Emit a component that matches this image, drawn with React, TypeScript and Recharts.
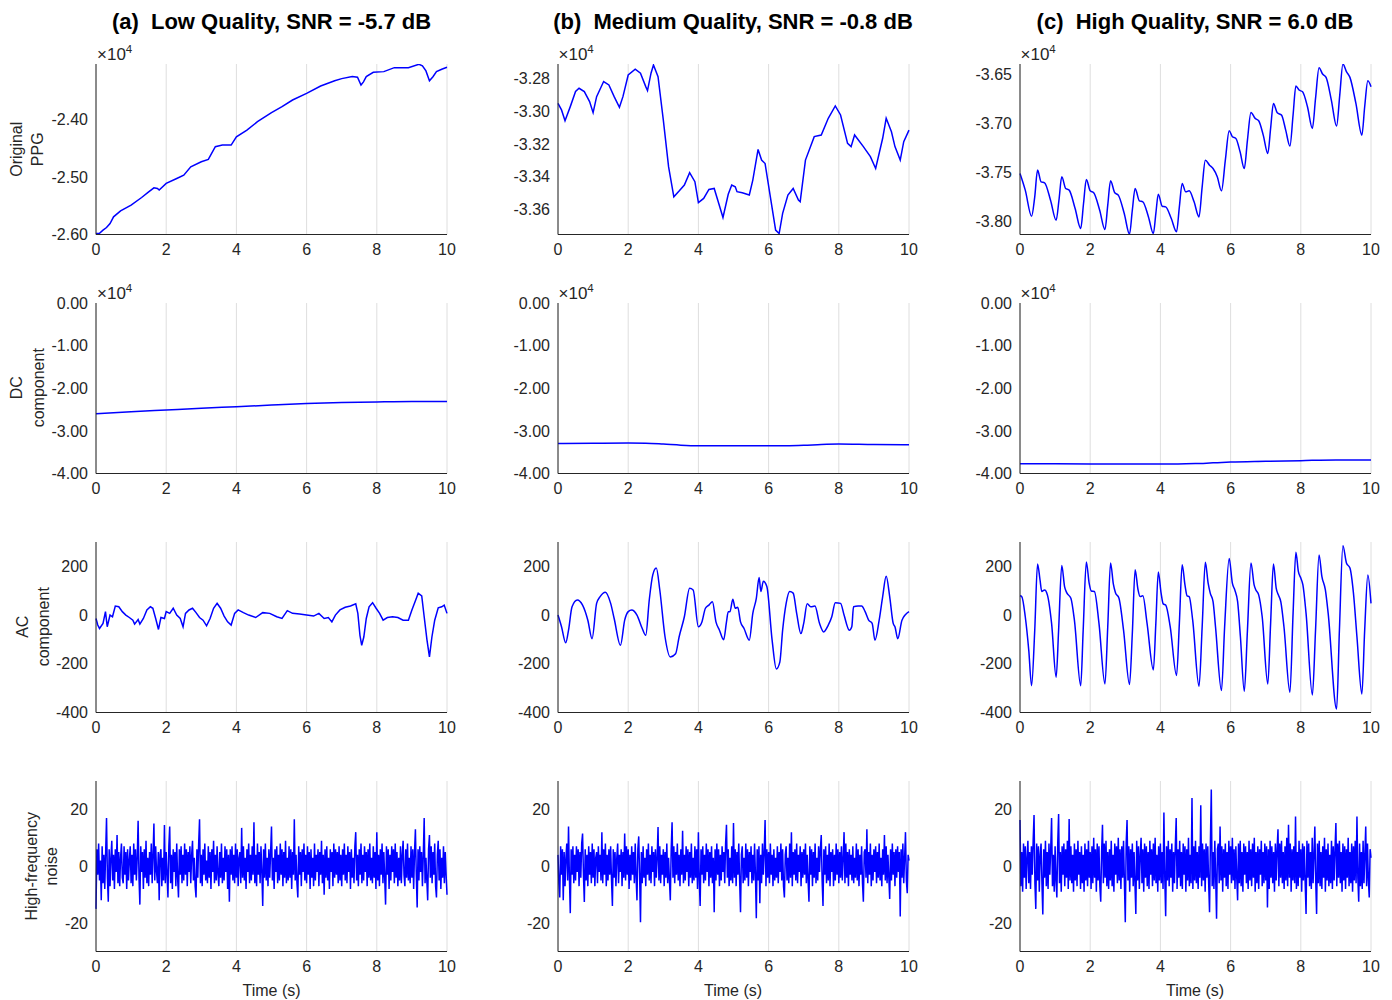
import { LineChart, Line, XAxis, YAxis, CartesianGrid } from "recharts"

const FONT = "'Liberation Sans', Arial, Helvetica, sans-serif"
const INK = "#262626"
const BLUE = "#0000ff"

const xTicks = [0, 2, 4, 6, 8, 10]

const titles = [
  "(a)  Low Quality, SNR = -5.7 dB",
  "(b)  Medium Quality, SNR = -0.8 dB",
  "(c)  High Quality, SNR = 6.0 dB",
]

// ---- row 1: original PPG ----
const ppgLowT = [
  0, 0.1, 0.2, 0.3, 0.4, 0.5, 0.7, 1.0, 1.3, 1.5,
  1.65, 1.75, 1.8, 2.0, 2.3, 2.5, 2.7, 3.0, 3.2, 3.4,
  3.6, 3.85, 4.0, 4.3, 4.6, 5.0, 5.3, 5.6, 6.0, 6.4,
  6.8, 7.0, 7.3, 7.45, 7.55, 7.62, 7.7, 7.9, 8.2, 8.5,
  8.9, 9.2, 9.3, 9.4, 9.5, 9.6, 9.7, 9.85, 10,
]
const ppgLowV = [
  -25985, -25980, -25926, -25880, -25810, -25693, -25588, -25489, -25356, -25257,
  -25187, -25200, -25227, -25110, -25024, -24966, -24820, -24733, -24692, -24471,
  -24442, -24442, -24297, -24180, -24035, -23878, -23773, -23657, -23540, -23412,
  -23320, -23284, -23249, -23261, -23395, -23340, -23249, -23174, -23162, -23093,
  -23093, -23034, -23060, -23150, -23320, -23250, -23162, -23120, -23087,
]

const ppgMedT = [
  0, 0.1, 0.2, 0.35, 0.5, 0.6, 0.75, 0.9, 1.0, 1.1,
  1.3, 1.45, 1.6, 1.75, 1.85, 2.0, 2.2, 2.35, 2.5, 2.55,
  2.65, 2.72, 2.85, 3.0, 3.15, 3.3, 3.45, 3.6, 3.75, 3.9,
  4.0, 4.15, 4.3, 4.45, 4.55, 4.7, 4.85, 4.95, 5.05, 5.1,
  5.25, 5.45, 5.55, 5.7, 5.8, 5.9, 6.05, 6.2, 6.3, 6.4,
  6.55, 6.7, 6.85, 6.9, 7.05, 7.3, 7.5, 7.7, 7.9, 8.05,
  8.25, 8.35, 8.45, 8.7, 8.9, 9.05, 9.25, 9.35, 9.5, 9.6,
  9.75, 9.85, 10,
]
const ppgMedV = [
  -32953, -32993, -33059, -32973, -32881, -32861, -32881, -32942, -33010, -32912,
  -32820, -32841, -32912, -32977, -32912, -32780, -32745, -32769, -32851, -32875,
  -32769, -32719, -32790, -33054, -33339, -33523, -33488, -33451, -33376, -33431,
  -33559, -33533, -33478, -33472, -33543, -33649, -33508, -33451, -33462, -33492,
  -33498, -33512, -33421, -33234, -33299, -33320, -33523, -33726, -33747, -33624,
  -33512, -33472, -33543, -33553, -33299, -33156, -33146, -33044, -32969, -33024,
  -33197, -33217, -33146, -33217, -33278, -33350, -33166, -33044, -33126, -33217,
  -33299, -33187, -33116,
]

const ppgHighT = [
  0, 0.15, 0.33, 0.42, 0.5, 0.6, 0.7, 0.87, 1.03, 1.11,
  1.19, 1.3, 1.4, 1.57, 1.73, 1.81, 1.89, 2.0, 2.1, 2.27,
  2.42, 2.5, 2.58, 2.7, 2.8, 2.97, 3.12, 3.2, 3.28, 3.4,
  3.5, 3.66, 3.8, 3.87, 3.94, 4.05, 4.15, 4.31, 4.46, 4.54,
  4.62, 4.72, 4.82, 4.96, 5.1, 5.19, 5.28, 5.4, 5.5, 5.62,
  5.74, 5.85, 5.96, 6.05, 6.15, 6.27, 6.39, 6.48, 6.58, 6.7,
  6.8, 6.93, 7.06, 7.14, 7.22, 7.33, 7.45, 7.57, 7.69, 7.78,
  7.86, 7.95, 8.05, 8.19, 8.33, 8.42, 8.52, 8.62, 8.72, 8.87,
  9.02, 9.11, 9.2, 9.3, 9.4, 9.57, 9.74, 9.82, 9.91, 10,
]
const ppgHighV = [
  -37511, -37681, -37946, -37749, -37477, -37596, -37606, -37783, -37987, -37783,
  -37545, -37664, -37681, -37868, -38071, -37817, -37572, -37688, -37708, -37885,
  -38082, -37834, -37586, -37708, -37732, -37919, -38129, -37885, -37664, -37790,
  -37800, -37953, -38122, -37919, -37722, -37844, -37851, -37970, -38105, -37851,
  -37613, -37698, -37688, -37800, -37953, -37647, -37376, -37427, -37461, -37545,
  -37688, -37376, -37077, -37138, -37155, -37291, -37461, -37172, -36890, -36951,
  -36975, -37121, -37308, -37053, -36799, -36894, -36917, -37070, -37233, -36917,
  -36622, -36663, -36680, -36833, -37053, -36748, -36436, -36500, -36534, -36765,
  -37029, -36714, -36398, -36476, -36534, -36799, -37121, -36833, -36568, -36629,
]

// ---- row 2: DC component ----
const dcLowT = [0, 1, 2, 3, 4, 5, 6, 7, 8, 9, 10]
const dcLowV = [-26000, -25500, -25100, -24700, -24330, -23950, -23600, -23350, -23200, -23100, -23120]
const dcMedT = [0, 1, 2, 2.5, 3, 3.5, 4, 5, 6, 6.5, 7, 7.5, 8, 9, 10]
const dcMedV = [-32950, -32900, -32860, -32900, -33100, -33350, -33480, -33500, -33500, -33500, -33400, -33200, -33100, -33200, -33230]
const dcHighT = [0, 1, 2, 3, 4, 4.5, 5, 5.5, 6, 7, 8, 9, 10]
const dcHighV = [-37700, -37740, -37770, -37790, -37800, -37780, -37680, -37500, -37330, -37150, -36980, -36820, -36860]

// ---- row 3: AC component ----
const acLowT = [
  0, 0.05, 0.1, 0.2, 0.27, 0.32, 0.4, 0.47, 0.55, 0.65,
  0.75, 0.85, 0.95, 1.05, 1.1, 1.2, 1.25, 1.35, 1.45, 1.55,
  1.62, 1.7, 1.78, 1.85, 1.95, 2.0, 2.1, 2.2, 2.3, 2.4,
  2.48, 2.55, 2.65, 2.75, 2.85, 2.95, 3.05, 3.15, 3.25, 3.35,
  3.45, 3.55, 3.65, 3.75, 3.85, 3.95, 4.05, 4.2, 4.35, 4.55,
  4.75, 4.95, 5.15, 5.3, 5.45, 5.6, 5.8, 6.0, 6.2, 6.35,
  6.5, 6.62, 6.72, 6.82, 6.95, 7.1, 7.25, 7.4, 7.46, 7.52,
  7.57, 7.63, 7.7, 7.78, 7.88, 7.98, 8.08, 8.18, 8.3, 8.45,
  8.6, 8.75, 8.9, 9.0, 9.1, 9.18, 9.28, 9.35, 9.43, 9.5,
  9.57, 9.65, 9.75, 9.85, 9.92, 10,
]
const acLowV = [
  -14, -41, -55, -34, 14, -48, 0, -7, 37, 34,
  14, 0, -10, -21, -37, -18, -37, -14, 21, 34,
  28, -14, -59, -10, -14, 14, 7, 28, 0, -14,
  -48, 7, 21, 28, 10, -10, -21, -44, -14, 28,
  48, 28, -4, -28, -41, 7, 21, 10, 0, -10,
  10, 7, -7, -14, 18, 7, 4, 0, -4, 7,
  -14, -10, -28, 0, 21, 32, 37, 46, 7, -83,
  -124, -90, -14, 34, 51, 28, 7, -21, -10, -7,
  -10, -21, -21, 21, 59, 90, 79, -7, -103, -172,
  -90, -21, 30, 34, 41, 7,
]

const acMedT = [
  0, 0.1, 0.22, 0.3, 0.4, 0.55, 0.7, 0.85, 0.97, 1.1,
  1.2, 1.35, 1.5, 1.6, 1.78, 1.9, 2.0, 2.1, 2.25, 2.4,
  2.5, 2.6, 2.7, 2.8, 2.9, 3.05, 3.2, 3.35, 3.45, 3.6,
  3.75, 3.85, 4.0, 4.1, 4.2, 4.3, 4.4, 4.5, 4.6, 4.72,
  4.8, 4.85, 4.9, 4.98, 5.05, 5.12, 5.2, 5.3, 5.45, 5.55,
  5.65, 5.73, 5.78, 5.85, 5.95, 6.1, 6.22, 6.32, 6.4, 6.5,
  6.6, 6.7, 6.8, 6.92, 7.0, 7.1, 7.2, 7.32, 7.45, 7.57,
  7.7, 7.8, 7.9, 8.05, 8.15, 8.3, 8.37, 8.42, 8.55, 8.65,
  8.75, 8.85, 8.95, 9.03, 9.15, 9.25, 9.35, 9.45, 9.55, 9.6,
  9.68, 9.8, 10,
]
const acMedV = [
  0, -48, -114, -62, 34, 62, 41, -21, -97, 48,
  76, 94, 48, -14, -124, -21, 14, 21, 0, -55,
  -83, 62, 165, 193, 103, -90, -172, -159, -90, -7,
  110, 103, -48, -28, 28, 41, 55, -28, -62, -101,
  -28, 14, 14, 65, 28, 32, -28, -55, -103, 7,
  69, 154, 97, 139, 117, -103, -221, -193, -62, 48,
  97, 90, 7, -76, -34, 46, 34, 37, -34, -69,
  -41, -7, 51, 48, 0, -62, -48, 34, 37, 37,
  14, -21, -34, -103, -21, 76, 159, 76, -34, -48,
  -97, -21, 14,
]

const acHighT = [
  0, 0.05, 0.15, 0.25, 0.33, 0.42, 0.5, 0.57, 0.62, 0.7,
  0.78, 0.9, 1.03, 1.1, 1.19, 1.27, 1.33, 1.45, 1.55, 1.73,
  1.8, 1.89, 1.97, 2.03, 2.12, 2.25, 2.42, 2.5, 2.58, 2.66,
  2.72, 2.82, 2.95, 3.12, 3.2, 3.28, 3.36, 3.42, 3.5, 3.62,
  3.8, 3.87, 3.94, 4.02, 4.08, 4.15, 4.28, 4.46, 4.54, 4.62,
  4.7, 4.76, 4.82, 4.92, 5.1, 5.19, 5.28, 5.36, 5.42, 5.5,
  5.57, 5.74, 5.83, 5.96, 6.05, 6.12, 6.2, 6.28, 6.39, 6.48,
  6.58, 6.67, 6.72, 6.8, 6.9, 7.06, 7.14, 7.22, 7.3, 7.36,
  7.43, 7.52, 7.69, 7.78, 7.86, 7.93, 8.0, 8.06, 8.15, 8.33,
  8.42, 8.52, 8.6, 8.7, 8.78, 9.02, 9.1, 9.2, 9.3, 9.4,
  9.5, 9.6, 9.74, 9.82, 9.91, 10,
]
const acHighV = [
  79, 76, -7, -145, -290, -62, 210, 145, 97, 103,
  83, -34, -255, -62, 204, 117, 92, 69, -21, -290,
  -62, 218, 131, 99, 97, -34, -283, -48, 214, 127,
  92, 69, -62, -285, -76, 186, 106, 76, 79, -34,
  -225, -34, 177, 90, 46, 41, -48, -248, -34, 207,
  124, 79, 76, -21, -292, -48, 217, 131, 90, 55,
  -48, -310, -48, 232, 131, 103, 55, -90, -313, -62,
  214, 124, 103, 83, -7, -283, -34, 210, 110, 83,
  55, -48, -317, 7, 258, 179, 152, 124, 7, -328,
  -62, 247, 159, 103, 7, -386, -62, 285, 214, 193,
  90, -90, -324, -62, 165, 48,
]

// ---- row 4: high-frequency noise, sampled every 0.025 s ----
const noiseLow = [
  -15, 6, -3, 8, -5, 2, -12, 7, -6, 4, -8, 5, 17, -4, -12.5, 6, -7, 3, 9, -5,
  4, -8, 6, -2, 11, -6, 5, -7, 3, 8, -4, -6, 7, -3, 5, -8, 6, -5, 2, 7,
  -6, 4, -7, 8, -3, 6, -5, 3, 16, -4, -13.5, 7, -2, 5, -8, 6, -4, 9, -6, 3,
  -7, 5, -3, 8, -6, 4, 15, -5, 7, -2, -6, 5, -12, 4, 6, -7, 3, -5, 14.5, -6,
  5, -3, -11, 7, 14, -6, 4, -8, 6, -2, 5, -7, 8, -4, -11, 6, -3, 7, -6, 4,
  -5, 8, -3, 6, -7, 5, -2, 7, -6, 4, 9, -5, 3, -7, -11, 6, -4, 8, 16.5, -6,
  4, -7, 6, -3, 8, -5, 2, -6, 7, -4, 5, -8, 6, -2, 9, -6, 4, -5, 7, -3,
  -7, 5, -4, 8, -6, 3, -5, 7, -2, 6, -8, 4, -12.5, 6, -3, 7, -5, 4, -6, 8,
  -4, 6, -7, 3, 5, -6, 13.5, -4, 7, -5, 3, -8, 6, -2, 8, -6, 4, -5, 7, -3,
  15.5, -6, 4, -7, 8, -3, 5, -6, 7, -2, -14, 6, -4, 8, -5, 3, -7, 6, -4, 5,
  14, -5, 3, -8, 6, -2, 7, -6, 4, -5, 8, -3, 6, -7, 5, -4, 9, -6, 3, -5,
  7, -4, 6, -8, 5, -3, 16.5, -5, 4, -6, -11, 7, -3, 5, -7, 6, -2, 8, -5, 4,
  -6, 7, -3, 5, -8, 6, -4, 3, -7, 8, -5, 4, -2, 6, -7, 5, -3, 9, -6, 4,
  -10, 6, -4, 7, -5, 3, -8, 6, -2, 5, -7, 8, -4, 6, -3, 5, -6, 7, -5, 4,
  -7, 6, -3, 8, -5, 4, -6, 7, -2, 5, -8, 6, -4, 3, -6, 7, 12, -5, 4, -7,
  6, -3, 8, -6, 4, -5, 7, -2, 5, -7, 6, -4, 8, -5, 3, -6, 7, -4, 5, -8,
  12, -5, 4, -7, 6, -3, 8, -6, 5, -4, -13.5, 7, -3, 6, -8, 4, -5, 7, -2, 6,
  -6, 8, -4, 5, -7, 3, -5, 7, -6, 4, 9, -3, -7, 6, -4, 8, -5, 3, -6, 7,
  -4, 6, -8, 5, 13, -3, -14.5, 6, -5, 7, -2, 5, -7, 4, 17, -6, 3, -5, -12, 6,
  11, -4, 7, -6, 5, -3, 8, -7, -11, 4, 9, -5, 6, -8, 3, -4, 7, -6, 5, -3,
  -10,
]
const noiseMed = [
  4, -6, -11, 7, -3, 6, -12, 5, -7, 3, 8, -5, 14, -4, -16.5, 6, -3, 7, -6, 4,
  -5, 7, -2, 6, -7, 5, -4, 8, 11.5, -3, -12.6, 6, -5, 4, -7, 7, -3, 5, -6, 8,
  -4, 6, -7, 3, 5, -6, 7, -2, 4, -5, 12, -6, 6, -3, 8, -7, 4, -5, 6, -3,
  7, -5, -14, 6, -4, 5, -7, 3, 8, -6, 4, -2, 6, -7, 5, -4, 11.5, -5, 7, -3,
  6, -8, 4, -5, 7, -3, 5, -6, 8, -4, -12, 6, 10.5, -3, -19.7, 5, -6, 7, -4, 3,
  -7, 6, -3, 8, -5, 4, -6, 7, -2, 5, -7, 6, -4, 3, 13.8, -5, 7, -6, 4, -3,
  6, -7, 5, -4, 8, -6, 3, -5, -12, 6, 15.5, -4, 7, -6, 5, -3, 8, -5, 4, -7,
  6, -3, 12.5, -6, 4, -5, 7, -2, 6, -7, 5, -4, 8, -6, 3, -5, 7, -4, 6, -8,
  12, -5, -14, 6, -3, 7, -6, 4, -5, 8, -2, 6, -7, 5, -4, 7, -6, 3, -16.2, 6,
  -5, 8, -3, 6, -7, 4, -5, 7, -2, 5, -6, 8, 14.6, -4, 6, -7, 3, -5, 7, -6,
  15.2, -4, 6, -7, 5, -3, 8, -5, -16.2, 4, 7, -6, 3, -5, 8, -4, 6, -7, 5, -2,
  7, -6, 4, -5, 8, -3, -18.3, 6, -5, 7, -13, 4, -6, 8, -3, 5, 16.3, -7, 6, -4,
  5, -6, 8, -3, 4, -7, 6, -5, 3, -4, 7, -6, 5, -2, 8, -5, 6, -7, -11, 4,
  7, -5, 3, -6, 8, -4, 12, -7, 5, -3, 6, -5, 8, -6, 4, -2, 7, -7, 5, -4,
  6, -3, 8, -6, 4, -5, -12.5, 7, -3, 6, -7, 5, -4, 8, -6, 3, -5, 7, -2, 6,
  11, -5, -14, 6, -3, 7, -6, 4, -5, 8, -7, 5, -2, 6, -7, 4, -5, 8, -3, 6,
  -6, 5, -4, 7, -5, 3, 12, -6, 8, -4, 5, -7, 6, -3, 4, -5, 7, -6, 3, -4,
  8, -5, 6, -7, 4, -3, 7, -6, -12.5, 5, 6, -4, 13, -6, 5, -3, 8, -7, 4, -5,
  6, -2, 7, -6, 5, -4, 8, -5, 3, -7, 6, -3, 11, -5, 7, -6, 4, -4, -11.5, 6,
  -5, 8, -3, 5, -7, 6, -4, 7, -2, 5, -17.7, 6, -4, 8, -6, 3, 12, -5, -9.5, 4,
  2,
]
const noiseHigh = [
  16.3, -7, 5, -9, 8, -4, 7, -8, 3, 9, -6, 5, -8, 7, -3, 9, 18, -6, -15, 8,
  -5, 7, -9, 4, 8, -6, -17, 6, -4, 9, -7, 5, -8, 8, -3, 6, 17, -7, 4, -9,
  7, -5, -11, 8, 18.4, -6, 5, -9, 7, -3, 8, -7, 6, -4, 9, -8, 16.6, -5, 7, -6,
  4, -9, 8, -5, 6, -7, 9, -3, 5, -8, 7, -6, 4, -9, 8, -5, 6, -7, 9, -4,
  5, -8, 7, -6, 10, -4, 6, -9, 8, -5, 7, -7, -12.5, 5, 14.6, -6, 8, -4, 9, -7,
  5, -8, 6, -5, 9, -7, 4, -9, 8, -3, 7, -6, 10, -5, 6, -8, 7, -4, 9, -6,
  -19.7, 8, 16.3, -5, 7, -9, 6, -4, 8, -7, 5, -6, -16.8, 9, -5, 7, -8, 4, 10, -6,
  6, -9, 8, -4, 7, -7, 5, -8, 9, -3, 6, -7, 8, -5, 10, -6, 4, -9, 7, -5,
  8, -6, 5, -8, 18.9, -4, -17.6, 7, -5, 9, -7, 6, -4, 8, -9, 5, -6, 7, 17, -8,
  6, -4, 9, -7, 5, -8, 8, -3, 7, -9, 6, -5, 10, -7, 4, -6, 24, -8, 7, -5,
  9, -6, 5, -8, 7, -4, 21.5, -7, 8, -5, 6, -9, 8, -4, 7, -6, -16.2, 9, 27, -7,
  5, -8, 9, -4, -18.5, 6, 8, -6, 14, -5, 7, -9, 6, -4, 8, -7, 5, -8, 9, -3,
  7, -6, 10, -5, 6, -8, 7, -4, -12, 8, -6, 9, -7, 5, -9, 8, -3, 7, -6, 5,
  -8, 9, -5, 6, -7, 8, -4, 10, -9, 5, -6, 7, -8, 6, -3, 9, -7, 5, -6, 8,
  -5, 7, -14.5, 6, -8, 9, -4, 7, -6, 5, -9, 8, -5, 6, 13, -7, 8, -4, 9, -6,
  5, -8, 7, -5, 10, -7, 14.6, -4, 8, -9, 6, -5, 7, -6, 17.5, -8, 5, -7, 9, -4,
  6, -9, 8, -5, 7, -6, -16.8, 9, -4, 8, -7, 5, -8, 10, -6, 4, 14, -5, -16.8, 8,
  -6, 9, -7, 5, -8, 7, -4, 10, -9, 6, -5, 8, -7, 4, -6, 9, -8, 7, -5, 6,
  15.2, -7, 8, -4, 9, -6, 5, -9, 8, -5, 7, -8, 6, -4, 10, -7, 5, -6, 8, -9,
  7, -5, 9, -6, 17.5, -4, -12.5, 8, -7, 5, -8, 9, -6, 4, 14, -7, 8, -5, -11, 6,
  3,
]
const noiseT = noiseLow.map((_, i) => i * 0.025)

// ---- layout ----
const colX = [96, 557.5, 1019.5]
const rowY = [64, 302.5, 541.5, 781]
const PLOT_W = 351
const PLOT_H = 170.5
const Y_AXIS_W = 70
const X_AXIS_H = 30
const TOP_PAD = 10
const RIGHT_PAD = 12

const tickStyle = { fontSize: 16, fill: INK, fontFamily: FONT }

const fmtE4 = (v: number) => (v / 10000).toFixed(2)
const fmtInt = (v: number) => String(v)

type PanelProps = {
  left: number
  top: number
  t: number[]
  v: number[]
  domain: [number, number]
  ticks: number[]
  fmt: (v: number) => string
  lineWidth: number
  smooth?: boolean
}

function Panel({ left, top, t, v, domain, ticks, fmt, lineWidth, smooth }: PanelProps) {
  const data = t.map((x, i) => ({ t: x, v: v[i] }))
  return (
    <div style={{ position: "absolute", left: left - Y_AXIS_W, top: top - TOP_PAD }}>
      <LineChart
        width={Y_AXIS_W + PLOT_W + RIGHT_PAD}
        height={TOP_PAD + PLOT_H + X_AXIS_H}
        data={data}
        margin={{ top: TOP_PAD, right: RIGHT_PAD, bottom: 0, left: 0 }}
      >
        <CartesianGrid horizontal={false} stroke="#dedede" strokeWidth={1} />
        <XAxis
          dataKey="t"
          type="number"
          domain={[0, 10]}
          ticks={xTicks}
          interval={0}
          tickSize={0}
          tickMargin={9}
          height={X_AXIS_H}
          axisLine={{ stroke: INK, strokeWidth: 1 }}
          tick={tickStyle}
        />
        <YAxis
          type="number"
          domain={domain}
          ticks={ticks}
          allowDataOverflow
          interval={0}
          tickSize={0}
          tickMargin={8}
          width={Y_AXIS_W}
          tickFormatter={fmt}
          axisLine={{ stroke: INK, strokeWidth: 1 }}
          tick={tickStyle}
        />
        <Line
          type={smooth ? "monotone" : "linear"}
          dataKey="v"
          stroke={BLUE}
          strokeWidth={lineWidth}
          dot={false}
          isAnimationActive={false}
        />
      </LineChart>
    </div>
  )
}

const dcDomain: [number, number] = [-40000, 0]
const dcTicks = [-40000, -30000, -20000, -10000, 0]
const acDomain: [number, number] = [-400, 300]
const acTicks = [-400, -200, 0, 200]
const noiseDomain: [number, number] = [-30, 30]
const noiseTicks = [-20, 0, 20]

const rowLabels = [
  { lines: ["Original", "PPG"], xs: [16.7, 37] },
  { lines: ["DC", "component"], xs: [16.7, 38] },
  { lines: ["AC", "component"], xs: [22, 43.5] },
  { lines: ["High-frequency", "noise"], xs: [31.7, 51.7] },
]

export default function App() {
  return (
    <div style={{ position: "absolute", left: 0, top: 0, width: 1392, height: 1000, background: "#fff" }}>
      {/* row 1 */}
      <Panel left={colX[0]} top={rowY[0]} t={ppgLowT} v={ppgLowV} domain={[-26001, -23029]} ticks={[-26000, -25000, -24000]} fmt={fmtE4} lineWidth={1.5} />
      <Panel left={colX[1]} top={rowY[0]} t={ppgMedT} v={ppgMedV} domain={[-33753, -32713]} ticks={[-33600, -33400, -33200, -33000, -32800]} fmt={fmtE4} lineWidth={1.5} />
      <Panel left={colX[2]} top={rowY[0]} t={ppgHighT} v={ppgHighV} domain={[-38132, -36398]} ticks={[-38000, -37500, -37000, -36500]} fmt={fmtE4} lineWidth={1.5} smooth />
      {/* row 2 */}
      <Panel left={colX[0]} top={rowY[1]} t={dcLowT} v={dcLowV} domain={dcDomain} ticks={dcTicks} fmt={fmtE4} lineWidth={1.5} smooth />
      <Panel left={colX[1]} top={rowY[1]} t={dcMedT} v={dcMedV} domain={dcDomain} ticks={dcTicks} fmt={fmtE4} lineWidth={1.5} smooth />
      <Panel left={colX[2]} top={rowY[1]} t={dcHighT} v={dcHighV} domain={dcDomain} ticks={dcTicks} fmt={fmtE4} lineWidth={1.5} smooth />
      {/* row 3 */}
      <Panel left={colX[0]} top={rowY[2]} t={acLowT} v={acLowV} domain={acDomain} ticks={acTicks} fmt={fmtInt} lineWidth={1.5} />
      <Panel left={colX[1]} top={rowY[2]} t={acMedT} v={acMedV} domain={acDomain} ticks={acTicks} fmt={fmtInt} lineWidth={1.5} smooth />
      <Panel left={colX[2]} top={rowY[2]} t={acHighT} v={acHighV} domain={acDomain} ticks={acTicks} fmt={fmtInt} lineWidth={1.5} smooth />
      {/* row 4 */}
      <Panel left={colX[0]} top={rowY[3]} t={noiseT} v={noiseLow} domain={noiseDomain} ticks={noiseTicks} fmt={fmtInt} lineWidth={1.5} />
      <Panel left={colX[1]} top={rowY[3]} t={noiseT} v={noiseMed} domain={noiseDomain} ticks={noiseTicks} fmt={fmtInt} lineWidth={1.5} />
      <Panel left={colX[2]} top={rowY[3]} t={noiseT} v={noiseHigh} domain={noiseDomain} ticks={noiseTicks} fmt={fmtInt} lineWidth={1.5} />

      <svg width={1392} height={1000} style={{ position: "absolute", left: 0, top: 0, pointerEvents: "none" }} fontFamily={FONT}>
        {titles.map((s, i) => (
          <text key={s} x={colX[i] + PLOT_W / 2} y={29} textAnchor="middle" fontSize={22} fontWeight="bold" fill="#000" style={{ whiteSpace: "pre" }}>
            {s}
          </text>
        ))}
        {[0, 1].map((r) =>
          colX.map((x) => (
            <text key={`e${r}-${x}`} x={x + 1} y={rowY[r] - 4} fontSize={17} fill={INK}>
              <tspan fontSize={17}>×</tspan>10
              <tspan fontSize={11.5} dy={-7}>4</tspan>
            </text>
          ))
        )}
        {rowLabels.map((lab, r) =>
          lab.lines.map((line, k) => (
            <text
              key={line + r}
              transform={`translate(${lab.xs[k]}, ${rowY[r] + PLOT_H / 2}) rotate(-90)`}
              textAnchor="middle"
              dominantBaseline="central"
              fontSize={16}
              fill={INK}
            >
              {line}
            </text>
          ))
        )}
        {colX.map((x) => (
          <text key={`time${x}`} x={x + PLOT_W / 2} y={996} textAnchor="middle" fontSize={16} fill={INK}>
            Time (s)
          </text>
        ))}
      </svg>
    </div>
  )
}
